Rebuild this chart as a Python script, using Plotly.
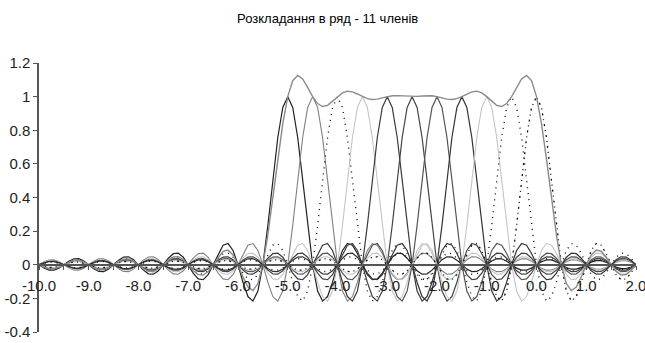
import numpy as np
import plotly.graph_objects as go

# ---- data ----
title_text = "Розкладання в ряд - 11 членів"
x_start, x_end, x_step = -10.0, 2.0, 0.1          # sampling grid of the category axis
centers = [-5.0, -4.5, -4.0, -3.5, -3.0, -2.5, -2.0, -1.5, -1.0, -0.5, 0.0]  # 11 terms
term_amplitudes = [1, 1, 1, 1, 1, 1, 1, 1, 1, 1, 1]
zero_spacing = 0.5                                 # distance between zero crossings
x_tick_vals = [-10, -9, -8, -7, -6, -5, -4, -3, -2, -1, 0, 1, 2]
x_tick_text = ["-10.0", "-9.0", "-8.0", "-7.0", "-6.0", "-5.0", "-4.0",
               "-3.0", "-2.0", "-1.0", "0.0", "1.0", "2.0"]
y_tick_vals = [-0.4, -0.2, 0, 0.2, 0.4, 0.6, 0.8, 1, 1.2]
y_tick_text = ["-0.4", "-0.2", "0", "0.2", "0.4", "0.6", "0.8", "1", "1.2"]

x = np.round(np.arange(x_start, x_end + x_step / 2, x_step), 2)
terms = [a * np.sinc((x - c) / zero_spacing) for c, a in zip(centers, term_amplitudes)]
total = np.sum(terms, axis=0)

# styles per term (Excel black & white palette look)
styles = [
    dict(color="#222222", dash="solid", width=1.2),
    dict(color="#808080", dash="solid", width=1.1),
    dict(color="#111111", dash="1px,5px", width=1.4),
    dict(color="#c4c4c4", dash="solid", width=1.1),
    dict(color="#3a3a3a", dash="solid", width=1.2),
    dict(color="#444444", dash="solid", width=1.2),
    dict(color="#555555", dash="solid", width=1.2),
    dict(color="#333333", dash="solid", width=1.2),
    dict(color="#c4c4c4", dash="solid", width=1.1),
    dict(color="#111111", dash="1px,5px", width=1.4),
    dict(color="#111111", dash="2px,4px,1px,4px", width=1.3),
]

fig = go.Figure()
for i, (y, st) in enumerate(zip(terms, styles)):
    fig.add_trace(go.Scatter(x=x, y=y, mode="lines", line=st,
                             name=f"term {i + 1}", hoverinfo="skip"))
fig.add_trace(go.Scatter(x=x, y=total, mode="lines",
                         line=dict(color="#8a8a8a", width=1.4), name="sum"))

font_family = "Liberation Sans Narrow, Arial Narrow, Liberation Sans, Arial, sans-serif"
fig.update_layout(
    width=645, height=343,
    margin=dict(l=39, r=9, t=63, b=11, autoexpand=False),
    paper_bgcolor="white", plot_bgcolor="white",
    showlegend=False,
    title=dict(text=title_text, x=0.508, xanchor="center", y=0.945, yanchor="middle",
               font=dict(family=font_family, size=13, color="#000000")),
    font=dict(family=font_family, size=15, color="#222222"),
)
fig.update_xaxes(
    range=[x_start, x_end], showgrid=False, zeroline=False,
    tickmode="array", tickvals=x_tick_vals, ticktext=x_tick_text,
    showline=True, linecolor="#555555", linewidth=2,
    ticks="outside", ticklen=4, tickcolor="#555555",
    minor=dict(ticks="outside", ticklen=4, tick0=-10, dtick=0.5, tickcolor="#555555"),
    anchor="free", position=0.25, ticklabelstandoff=3,
    ticklabeloverflow="allow", automargin=False,
)
fig.update_yaxes(
    range=[-0.4, 1.2], showgrid=False, zeroline=False,
    tickmode="array", tickvals=y_tick_vals, ticktext=y_tick_text,
    showline=True, linecolor="#555555", linewidth=1.5,
    ticks="outside", ticklen=4, tickcolor="#555555", automargin=False,
    ticklabeloverflow="allow",
)

fig.write_html("out.html", config={"displayModeBar": False},
               post_script="document.body.style.margin='0';document.body.style.overflow='hidden';")
